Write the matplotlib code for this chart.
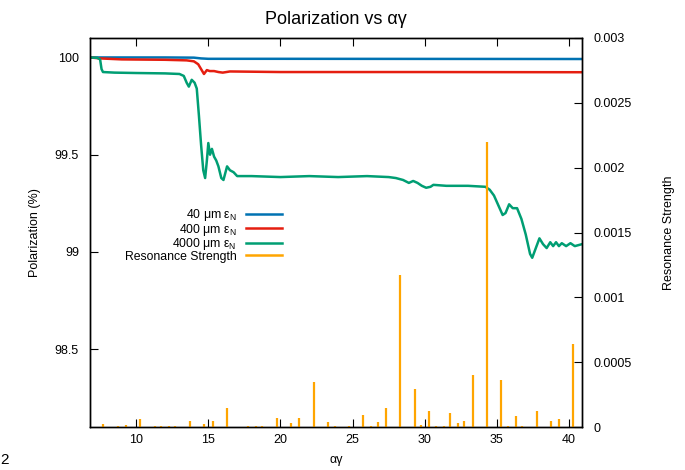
import matplotlib
matplotlib.use("Agg")
import matplotlib.pyplot as plt

plt.rcParams['font.family'] = ['Liberation Sans', 'DejaVu Sans']

# ---- data ----
blue_x = [6.8, 12.0, 14.0, 14.5, 15.0, 20.0, 40.9]
blue_y = [100.0, 100.0, 99.999, 99.995, 99.993, 99.993, 99.992]

red_x = [6.8, 7.5, 9.0, 12.0, 13.5, 14.0, 14.3, 14.5, 14.7, 14.9, 15.1, 15.4, 15.7,
         16.0, 16.5, 20.0, 30.0, 40.9]
red_y = [100.0, 99.995, 99.99, 99.988, 99.985, 99.98, 99.965, 99.94, 99.915, 99.935,
         99.93, 99.93, 99.925, 99.922, 99.928, 99.925, 99.925, 99.924]

green_x = [6.8, 7.3, 7.5, 7.6, 7.7, 8.5, 10.0, 12.0, 13.0, 13.3, 13.5, 13.65, 13.85,
           14.05, 14.2, 14.35, 14.5, 14.65, 14.78, 14.9, 15.0, 15.12, 15.25, 15.4,
           15.55, 15.7, 15.9, 16.05, 16.3, 16.5, 16.75, 17.0, 18.0, 20.0, 22.0, 24.0,
           26.0, 27.5, 28.0, 28.5, 28.9, 29.2, 29.5, 29.8, 30.1, 30.4, 30.6, 31.5,
           33.0, 34.2, 34.5, 34.8, 35.1, 35.4, 35.6, 35.85, 36.1, 36.4, 36.7, 37.0,
           37.3, 37.45, 37.7, 37.95, 38.2, 38.45, 38.7, 38.9, 39.1, 39.3, 39.5, 39.8,
           40.1, 40.4, 40.9]
green_y = [100.0, 99.998, 99.99, 99.94, 99.925, 99.922, 99.92, 99.918, 99.915, 99.905,
           99.87, 99.85, 99.885, 99.87, 99.84, 99.7, 99.55, 99.42, 99.38, 99.47, 99.56,
           99.5, 99.53, 99.49, 99.47, 99.44, 99.38, 99.37, 99.44, 99.42, 99.41, 99.39,
           99.39, 99.385, 99.39, 99.385, 99.39, 99.385, 99.38, 99.37, 99.355, 99.365,
           99.355, 99.34, 99.33, 99.335, 99.345, 99.34, 99.34, 99.335, 99.32, 99.29,
           99.24, 99.19, 99.2, 99.245, 99.225, 99.225, 99.17, 99.09, 98.99, 98.97,
           99.02, 99.07, 99.04, 99.02, 99.05, 99.03, 99.05, 99.03, 99.045, 99.03,
           99.045, 99.03, 99.04]

res_x = [7.69, 8.73, 9.29, 10.28, 11.32, 11.73, 12.29, 12.70, 13.72, 14.71, 15.32,
         16.31, 17.74, 18.32, 18.73, 19.75, 20.73, 21.30, 22.34, 23.31, 23.76, 24.76,
         25.75, 26.31, 26.75, 27.29, 28.32, 29.33, 29.75, 30.30, 30.77, 31.32, 31.76,
         32.29, 32.73, 33.33, 34.32, 35.29, 35.76, 36.31, 36.77, 37.77, 38.76, 39.31,
         40.30]
res_y = [2.3e-5, 1.0e-5, 1.5e-5, 5.9e-5, 8e-6, 8e-6, 8e-6, 8e-6, 4.8e-5, 2.3e-5, 4.4e-5,
         1.5e-4, 6e-6, 8e-6, 8e-6, 6.9e-5, 3.1e-5, 7.3e-5, 3.5e-4, 3.8e-5, 6e-6, 8e-6,
         9.2e-5, 8e-6, 3.8e-5, 1.44e-4, 1.17e-3, 2.9e-4, 1.5e-5, 1.23e-4, 8e-6, 8e-6,
         1.1e-4, 2.8e-5, 4.4e-5, 3.98e-4, 2.2e-3, 3.6e-4, 8e-6, 8.7e-5, 5e-6, 1.2e-4,
         4.6e-5, 6.4e-5, 6.4e-4]

x_ticks = [10, 15, 20, 25, 30, 35, 40]
y_ticks = [98.5, 99, 99.5, 100]
y_ticklabels = ['98.5', '99', '99.5', '100']
y2_ticks = [0, 0.0005, 0.001, 0.0015, 0.002, 0.0025, 0.003]
y2_ticklabels = ['0', '0.0005', '0.001', '0.0015', '0.002', '0.0025', '0.003']

labels = ['40 μm $\\mathregular{ε_N}$', '400 μm $\\mathregular{ε_N}$',
          '4000 μm $\\mathregular{ε_N}$', 'Resonance Strength']
colors = ['#0072b2', '#e51e10', '#009e73', '#ffa500']

# ---- figure ----
fig = plt.figure(figsize=(6.85, 4.7), dpi=100)
ax = fig.add_axes([90/685, 1-427/470, (582-90)/685, (427-38)/470])
ax2 = ax.twinx()

l1, = ax.plot(blue_x, blue_y, color=colors[0], lw=1.8)
l2, = ax.plot(red_x, red_y, color=colors[1], lw=1.8)
l3, = ax.plot(green_x, green_y, color=colors[2], lw=1.8)
ax2.vlines(res_x, 0, res_y, color=colors[3], lw=1.6)
l4 = plt.Line2D([], [], color=colors[3], lw=1.8)

ax.set_xlim(6.8, 40.9)
ax.set_ylim(98.1, 100.1)
ax2.set_ylim(0, 0.003)

ax.set_xticks(x_ticks)
ax.set_yticks(y_ticks)
ax.set_yticklabels(y_ticklabels)
ax2.set_yticks(y2_ticks)
ax2.set_yticklabels(y2_ticklabels)

ax.tick_params(axis='x', direction='in', top=True, length=6, labelsize=9, pad=5)
ax.tick_params(axis='y', direction='in', length=6, labelsize=9, pad=8)
ax2.tick_params(axis='y', direction='in', length=6, labelsize=9, pad=8)

for a in (ax, ax2):
    for s in a.spines.values():
        s.set_linewidth(1.0)

ax.set_title('Polarization vs αγ', fontsize=13, pad=10)
ax.set_xlabel('αγ', fontsize=9, labelpad=6)
ax.set_ylabel('Polarization (%)', fontsize=9, labelpad=10)
ax2.set_ylabel('Resonance Strength', fontsize=9, labelpad=23)

ax2.legend([l1, l2, l3, l4], labels, loc='upper left', markerfirst=False,
           frameon=False, fontsize=8.8, bbox_to_anchor=(0.061, 0.578),
           handlelength=2.95, handletextpad=0.8, labelspacing=-0.12,
           borderaxespad=0)

fig.text(0.001, 0.012, '2', fontsize=11)

fig.savefig('out.png', dpi=100)
